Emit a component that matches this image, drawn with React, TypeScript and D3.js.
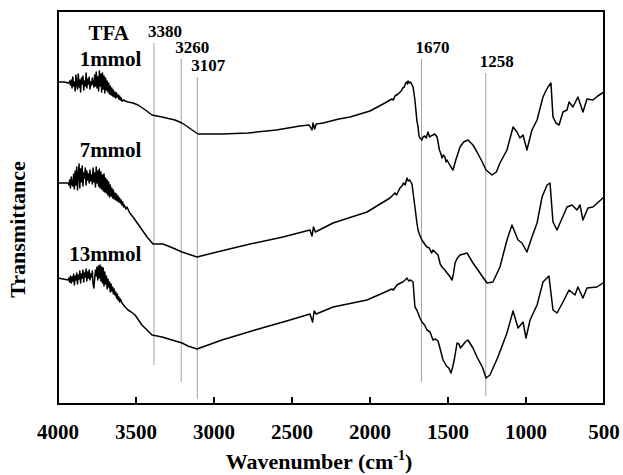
import * as d3 from "d3";

// FTIR spectra, [wavenumber, transmittance (arbitrary units)]
const trace1mmol: [number, number][] = [
  [4000, 322], [3960, 322], [3935, 321], [3930, 321], [3925, 323], [3920, 319], [3915, 324],
  [3910, 316], [3905, 327], [3900, 318], [3895, 322], [3890, 313], [3885, 329], [3880, 320],
  [3875, 315], [3870, 330], [3865, 317], [3860, 324], [3855, 312], [3850, 326], [3845, 320],
  [3840, 328], [3835, 314], [3830, 323], [3825, 318], [3820, 331], [3815, 316], [3810, 325],
  [3805, 320], [3800, 327], [3795, 315], [3790, 322], [3785, 319], [3780, 326], [3775, 321],
  [3770, 317], [3765, 329], [3760, 318], [3755, 332], [3750, 316], [3745, 327], [3740, 313],
  [3735, 333], [3730, 318], [3725, 330], [3720, 312], [3715, 331], [3710, 315], [3705, 328],
  [3700, 311], [3695, 326], [3690, 314], [3685, 323], [3680, 312], [3675, 321], [3670, 310],
  [3665, 318], [3660, 309], [3655, 316], [3650, 308], [3645, 314], [3640, 307], [3635, 312],
  [3630, 306], [3625, 311], [3620, 307], [3615, 309], [3610, 305], [3605, 308], [3600, 304],
  [3595, 306], [3590, 303], [3580, 304], [3570, 303], [3550, 302], [3520, 301], [3487, 299],
  [3440, 294], [3397, 289], [3333, 287], [3250, 284], [3205, 281], [3167, 277], [3122, 272],
  [3103, 270], [3000, 270], [2949, 270], [2782, 271], [2600, 274], [2449, 278], [2390, 279],
  [2372, 274], [2365, 281], [2355, 275], [2345, 280], [2300, 281], [2200, 285], [2128, 287],
  [2000, 293], [1904, 301], [1860, 305], [1850, 304], [1840, 308], [1820, 310], [1800, 313],
  [1790, 316], [1780, 317], [1772, 321], [1765, 322], [1760, 320], [1756, 323], [1748, 321],
  [1740, 322], [1724, 317], [1712, 304], [1700, 284], [1692, 277], [1686, 268], [1680, 266],
  [1667, 264], [1660, 267], [1650, 268], [1640, 266], [1628, 272], [1618, 267], [1610, 268],
  [1596, 269], [1585, 270], [1570, 267], [1555, 254], [1545, 250], [1538, 246], [1530, 249],
  [1520, 247], [1512, 242], [1506, 244], [1485, 238], [1468, 234], [1450, 244], [1423, 257],
  [1400, 262], [1372, 264], [1340, 259], [1314, 252], [1280, 242], [1256, 234], [1218, 229],
  [1190, 232], [1167, 241], [1122, 254], [1083, 277], [1058, 272], [1039, 266], [1019, 269],
  [994, 254], [962, 274], [929, 284], [891, 307], [870, 314], [859, 317], [840, 321],
  [827, 287], [808, 281], [788, 279], [763, 292], [737, 294], [724, 302], [699, 297],
  [667, 307], [635, 292], [609, 305], [571, 304], [540, 308], [500, 312],
];

const trace7mmol: [number, number][] = [
  [4000, 221], [3940, 221], [3935, 221], [3930, 219], [3925, 224], [3920, 216], [3915, 227],
  [3910, 220], [3905, 218], [3900, 230], [3895, 215], [3890, 233], [3885, 219], [3880, 237],
  [3875, 214], [3870, 229], [3865, 240], [3860, 216], [3855, 235], [3850, 222], [3845, 238],
  [3840, 218], [3835, 231], [3830, 226], [3825, 236], [3820, 219], [3815, 233], [3810, 224],
  [3805, 230], [3800, 221], [3795, 234], [3790, 223], [3785, 229], [3780, 220], [3775, 236],
  [3770, 222], [3765, 231], [3760, 217], [3755, 237], [3750, 221], [3745, 233], [3740, 218],
  [3735, 235], [3730, 216], [3725, 232], [3720, 215], [3715, 229], [3710, 213], [3705, 230],
  [3700, 212], [3695, 226], [3690, 211], [3685, 224], [3680, 209], [3675, 222], [3670, 207],
  [3665, 219], [3660, 208], [3655, 216], [3650, 206], [3645, 214], [3640, 205], [3635, 211],
  [3630, 204], [3625, 210], [3620, 203], [3615, 208], [3610, 202], [3605, 206], [3600, 201],
  [3595, 204], [3590, 199], [3585, 202], [3580, 197], [3575, 199], [3565, 195], [3558, 197],
  [3540, 191], [3519, 187], [3474, 177], [3429, 167], [3391, 160], [3327, 160], [3263, 156],
  [3205, 152], [3109, 147], [2981, 152], [2769, 160], [2558, 167], [2385, 174], [2372, 168],
  [2362, 177], [2350, 172], [2237, 181], [2019, 192], [1872, 206], [1840, 211], [1830, 209],
  [1808, 216], [1795, 218], [1785, 221], [1775, 219], [1763, 226], [1755, 223], [1745, 224],
  [1731, 220], [1712, 197], [1700, 182], [1692, 174], [1684, 170], [1676, 167], [1667, 164],
  [1650, 160], [1635, 157], [1620, 156], [1605, 151], [1596, 154], [1564, 149], [1550, 140],
  [1538, 137], [1520, 134], [1506, 131], [1490, 128], [1474, 124], [1465, 130], [1455, 141],
  [1440, 146], [1423, 149], [1400, 150], [1378, 151], [1340, 141], [1295, 131], [1250, 121],
  [1212, 122], [1167, 137], [1122, 164], [1090, 179], [1051, 164], [1026, 161], [994, 152],
  [962, 167], [929, 181], [897, 207], [865, 219], [846, 221], [827, 182], [801, 174],
  [782, 181], [737, 197], [705, 199], [673, 194], [654, 199], [635, 184], [603, 196],
  [571, 197], [507, 206], [500, 207],
];

const trace13mmol: [number, number][] = [
  [4000, 126], [3935, 124], [3930, 126], [3925, 122], [3920, 128], [3915, 121], [3910, 127],
  [3905, 123], [3900, 130], [3895, 119], [3890, 128], [3885, 124], [3880, 131], [3875, 120],
  [3870, 129], [3865, 125], [3860, 133], [3855, 121], [3850, 130], [3845, 126], [3840, 134],
  [3835, 122], [3830, 131], [3825, 127], [3820, 135], [3815, 123], [3810, 132], [3805, 126],
  [3800, 134], [3795, 124], [3790, 130], [3785, 127], [3780, 133], [3775, 120], [3770, 116],
  [3765, 125], [3760, 134], [3755, 128], [3750, 137], [3745, 124], [3740, 138], [3735, 126],
  [3730, 139], [3725, 123], [3720, 137], [3715, 121], [3710, 136], [3705, 118], [3700, 132],
  [3695, 120], [3690, 128], [3685, 115], [3680, 125], [3675, 117], [3670, 122], [3665, 112],
  [3660, 120], [3655, 113], [3650, 117], [3645, 110], [3640, 115], [3635, 109], [3630, 112],
  [3625, 106], [3620, 110], [3615, 104], [3610, 107], [3605, 102], [3600, 105], [3590, 101],
  [3580, 99], [3570, 97], [3551, 94], [3530, 92], [3506, 89], [3462, 79], [3397, 69],
  [3333, 67], [3269, 64], [3205, 61], [3167, 58], [3109, 55], [3038, 59], [2949, 64],
  [2737, 74], [2513, 84], [2385, 90], [2368, 82], [2358, 93], [2345, 90], [2237, 97],
  [2019, 104], [1917, 111], [1860, 115], [1850, 114], [1827, 119], [1805, 121], [1790, 122],
  [1775, 124], [1763, 126], [1752, 123], [1740, 124], [1724, 122], [1712, 97], [1700, 94],
  [1692, 91], [1680, 86], [1667, 82], [1650, 79], [1635, 74], [1615, 72], [1596, 64],
  [1580, 65], [1564, 63], [1550, 55], [1532, 44], [1510, 38], [1495, 36], [1481, 31],
  [1470, 37], [1460, 44], [1442, 61], [1430, 60], [1420, 56], [1404, 59], [1390, 62],
  [1372, 64], [1340, 56], [1314, 47], [1280, 37], [1256, 26], [1231, 29], [1180, 47],
  [1122, 71], [1083, 93], [1051, 76], [1019, 82], [1000, 66], [974, 84], [929, 99],
  [891, 122], [853, 128], [827, 94], [801, 91], [763, 102], [724, 114], [686, 109],
  [667, 117], [635, 106], [609, 116], [545, 117], [507, 121], [500, 122],
];

const seriesLabels = ["1mmol", "7mmol", "13mmol"];
const seriesLabelT = [338, 247, 143];

// marker lines: label, wavenumber, top, bottom (transmittance units)
const peakLabels = ["3380", "3260", "3107", "1670", "1258"];
const peakPos = [3385, 3210, 3107, 1670, 1258];
const peakTop = [361, 345, 327, 345, 331];
const peakBottom = [39, 22, 5, 22, 8];

const xTicks = [4000, 3500, 3000, 2500, 2000, 1500, 1000, 500];

const W = 623;
const H = 475;
const margin = { top: 11, right: 19, bottom: 71, left: 58 };
const font = "'Liberation Serif', 'Times New Roman', serif";

export default function App() {
  const x = d3
    .scaleLinear()
    .domain([4000, 500])
    .range([margin.left, W - margin.right]);
  const y = d3
    .scaleLinear()
    .domain([0, 393])
    .range([H - margin.bottom, margin.top]);

  const line = d3
    .line<[number, number]>()
    .x((d) => x(d[0]))
    .y((d) => y(d[1]));

  const traces = [trace1mmol, trace7mmol, trace13mmol];
  const bottom = H - margin.bottom;

  return (
    <svg
      width={W}
      height={H}
      style={{ position: "absolute", left: 0, top: 0, background: "#fff" }}
      fontFamily={font}
      fontWeight="bold"
    >
      {peakPos.map((p, i) => (
        <g key={i}>
          <line
            x1={x(p)}
            x2={x(p)}
            y1={y(peakTop[i])}
            y2={y(peakBottom[i])}
            stroke="#999"
            strokeWidth={0.9}
          />
          <text x={x(p) - 6} y={y(peakTop[i]) - 6} fontSize={17}>
            {peakLabels[i]}
          </text>
        </g>
      ))}

      {traces.map((t, i) => (
        <path
          key={i}
          d={line(t) ?? ""}
          fill="none"
          stroke="#000"
          strokeWidth={1.5}
          strokeLinejoin="round"
        />
      ))}

      <text x={x(3675)} y={y(364)} fontSize={21} textAnchor="middle">
        TFA
      </text>
      {seriesLabels.map((s, i) => (
        <text key={s} x={x(3465)} y={y(seriesLabelT[i])} fontSize={21} textAnchor="end">
          {s}
        </text>
      ))}

      <rect
        x={margin.left}
        y={margin.top}
        width={W - margin.left - margin.right}
        height={H - margin.top - margin.bottom}
        fill="none"
        stroke="#000"
        strokeWidth={2}
      />
      {xTicks.map((t) => (
        <g key={t}>
          <line x1={x(t)} x2={x(t)} y1={bottom} y2={bottom - 7} stroke="#000" strokeWidth={2} />
          <text x={x(t)} y={439} fontSize={21} textAnchor="middle">
            {t}
          </text>
        </g>
      ))}

      <text x={(margin.left + W - margin.right) / 2 - 12} y={469} fontSize={22} textAnchor="middle">
        Wavenumber (cm
        <tspan fontSize={14} dy={-9}>-1</tspan>
        <tspan dy={9}>)</tspan>
      </text>
      <text
        transform={`translate(25, ${(margin.top + bottom) / 2 + 22}) rotate(-90)`}
        fontSize={22}
        textAnchor="middle"
      >
        Transmittance
      </text>
    </svg>
  );
}
